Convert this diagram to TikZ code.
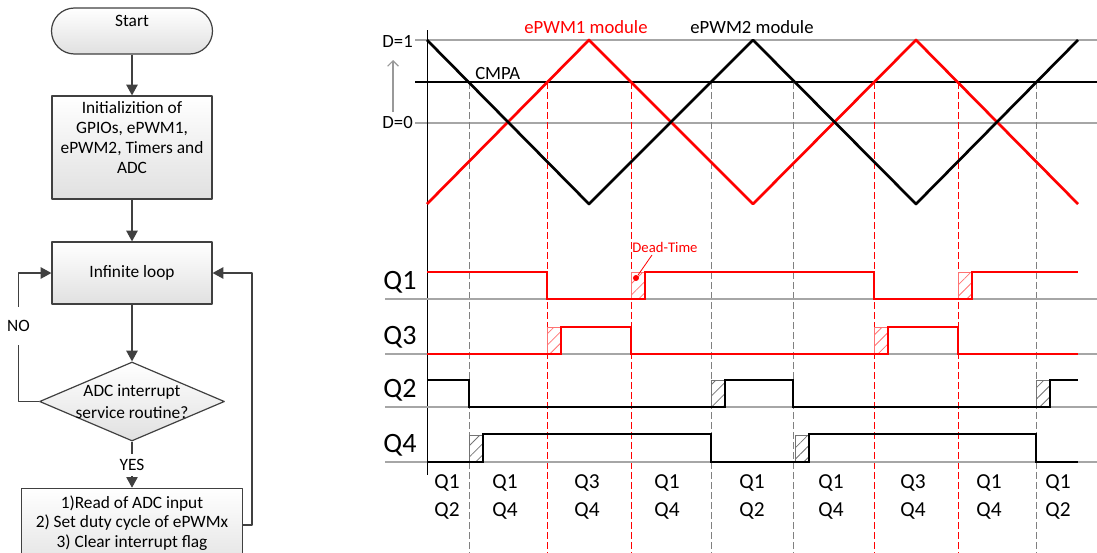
\documentclass[tikz,border=0pt]{standalone}
\usepackage{fontspec}
\setmainfont{Carlito}
\usetikzlibrary{arrows.meta,shapes.geometric,patterns.meta}
\definecolor{flowgrey}{HTML}{404040}
\definecolor{gridgrey}{HTML}{A6A6A6}
\definecolor{dashgrey}{HTML}{808080}
% dead-time box: x, low level, colour
\newcommand{\deadtime}[3]{\draw[dtbox=#3] (#1,#2) rectangle ++(14,-27);}
\begin{document}
\begin{tikzpicture}[x=0.75pt, y=-0.75pt, line join=round, font=\fontsize{13}{15}\selectfont,
	flowbox/.style={draw=flowgrey, line width=0.9pt, top color=white, bottom color=black!12, align=center, inner sep=2pt},
	decision/.style={diamond, draw=flowgrey, line width=0.9pt, top color=white, bottom color=black!12, inner sep=0pt, shape aspect=2.34, minimum width=138.75pt, minimum height=59.25pt},
	flowarrow/.style={draw=flowgrey, line width=1pt, -{Triangle[length=8pt,width=8.5pt]}},
	gridline/.style={draw=gridgrey, line width=0.8pt},
	cmpline/.style={draw=black, line width=0.8pt},
	carrier/.style={line width=2pt},
	pulse/.style={line width=2pt, line join=miter},
	blackcut/.style={draw=dashgrey, line width=0.6pt, dash pattern=on 5pt off 2.5pt},
	redcut/.style={draw=red, line width=0.6pt, dash pattern=on 5pt off 2.5pt},
	dtbox/.style={draw=#1!55, line width=0.5pt, pattern={Lines[angle=45,distance=6pt,line width=0.6pt]}, pattern color=#1!55},
	lbl/.style={inner sep=0pt, font=\fontsize{14}{16}\selectfont},
	qname/.style={inner sep=0pt, font=\fontsize{21}{24}\selectfont},
	state/.style={inner sep=0pt, font=\fontsize{16}{19}\selectfont}]
	\useasboundingbox (0,0) rectangle (1097,553);

	% flowchart
	\node[flowbox, rounded corners=17.25pt, minimum width=120.75pt, minimum height=34.5pt] (start) at (132,31) {Start\\\mbox{}};
	\node[flowbox, minimum width=120pt, minimum height=77.25pt] (init) at (132,147.5) {Initializition of\\GPIOs, ePWM1,\\ePWM2, Timers and\\ADC\\\mbox{}};
	\node[flowbox, minimum width=120pt, minimum height=46.5pt] (loop) at (132,273) {Infinite loop};
	\node[decision, label={[align=center, font=\fontsize{13}{16}\selectfont]center:ADC interrupt\\service routine?}] (isr) at (132,401.5) {};
	\node[flowbox, minimum width=165.75pt, minimum height=64pt, font=\fontsize{13}{14.5}\selectfont] (read) at (132,531) {1)Read of ADC input\\2) Set duty cycle of ePWMx\\3) Clear interrupt flag\\\mbox{}};

	\draw[flowarrow] (start) -- (init);
	\draw[flowarrow] (init) -- (loop);
	\draw[flowarrow] (loop) -- (isr);
	\draw[flowarrow] (isr.south) -- node[fill=white, inner xsep=2pt, inner ysep=4pt] (yes) {YES} (read.north);
	\draw[flowarrow] (isr.west) -- ++(-20.5,0) |- node[pos=0.294, fill=white, inner sep=2pt, minimum height=28pt] (no) {NO} (loop.west);
	\draw[flowarrow] (read.east |- 0,525) -- ++(9,0) |- (loop.east);

	% carriers and CMPA
	\draw[gridline] (415,40) -- (1097,40);
	\draw[gridline] (415,123) -- (1097,123);
	\draw[cmpline] (415,82) -- (1097,82);
	\foreach \x in {469,711,793,1036}
		\draw[blackcut] (\x,82) -- (\x,553);
	\foreach \x in {547,631,874,958}
		\draw[redcut] (\x,82) -- (\x,553);
	\draw[line width=0.7pt] (427,30) -- (427,475);
	\draw[carrier, red] (427,204) -- (589,40) -- (753,204) -- (916,40) -- (1078,204);
	\draw[carrier] (427,40) -- (589,204) -- (753,40) -- (916,204) -- (1078,40);
	\draw[draw=gray!80, line width=0.9pt, -{Straight Barb[length=4pt,width=8pt]}] (393,112) -- (393,60);

	\node[lbl, anchor=base east] (d1) at (413,47) {D=1};
	\node[lbl, anchor=base east] (d0) at (413,128) {D=0};
	\node[lbl, anchor=base west] (cmpa) at (475,79) {CMPA};
	\node[lbl, anchor=base, text=red] (pwm1) at (586,33) {ePWM1 module};
	\node[lbl, anchor=base] (pwm2) at (752,33) {ePWM2 module};

	% gate signals
	\foreach \y in {299,354,407,462}
		\draw[gridline] (385,\y) -- (1097,\y);
	\deadtime{631}{299}{red}
	\deadtime{958}{299}{red}
	\deadtime{547}{354}{red}
	\deadtime{874}{354}{red}
	\deadtime{711}{407}{black}
	\deadtime{1036}{407}{black}
	\deadtime{469}{462}{black}
	\deadtime{795}{462}{black}
	\draw[pulse, red] (427,272) -- (547,272) -- (547,299) -- (645,299) -- (645,272) -- (874,272) -- (874,299) -- (972,299) -- (972,272) -- (1078,272);
	\draw[pulse, red] (427,354) -- (561,354) -- (561,327) -- (631,327) -- (631,354) -- (888,354) -- (888,327) -- (958,327) -- (958,354) -- (1078,354);
	\draw[pulse] (427,380) -- (469,380) -- (469,407) -- (725,407) -- (725,380) -- (793,380) -- (793,407) -- (1050,407) -- (1050,380) -- (1078,380);
	\draw[pulse] (427,462) -- (483,462) -- (483,434) -- (711,434) -- (711,462) -- (809,462) -- (809,434) -- (1036,434) -- (1036,462) -- (1078,462);

	\node[qname, anchor=base] (q1) at (400,289) {Q1};
	\node[qname, anchor=base] (q3) at (400,344) {Q3};
	\node[qname, anchor=base] (q2) at (400,397) {Q2};
	\node[qname, anchor=base] (q4) at (400,452) {Q4};

	\node[inner sep=0pt, anchor=base, text=red, font=\fontsize{11}{13}\selectfont] (dt) at (665,252) {Dead-Time};
	\node[circle, fill=red, inner sep=0pt, minimum size=4.5pt] (dtdot) at (636,278) {};
	\coordinate (dtfoot) at (652,255);
	\draw[red, line width=0.6pt] (dtfoot) -- (dtdot);

	% conducting switches
	\foreach \x/\a/\b [count=\i] in {447/Q1/Q2, 505/Q1/Q4, 587/Q3/Q4, 667/Q1/Q4, 752/Q1/Q2, 831/Q1/Q4, 913/Q3/Q4, 989/Q1/Q4, 1058/Q1/Q2}{
		\node[state, anchor=base] (up\i) at (\x,488) {\a};
		\node[state, anchor=base] (lo\i) at (\x,516) {\b};
	}
\end{tikzpicture}
\end{document}
